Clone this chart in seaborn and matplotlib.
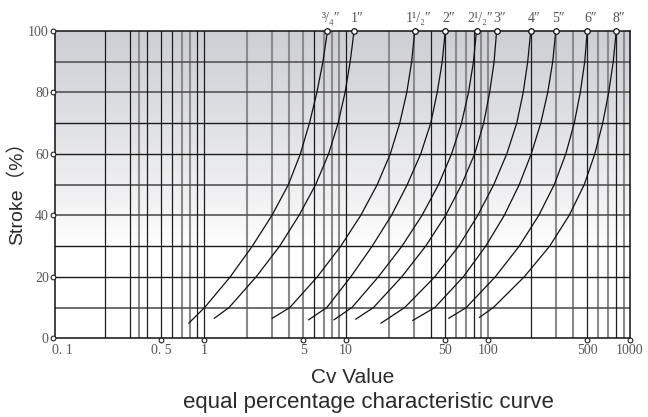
import numpy as np
import pandas as pd
import matplotlib
matplotlib.use("Agg")
import matplotlib.pyplot as plt
import seaborn as sns
from matplotlib.transforms import blended_transform_factory
from matplotlib.ticker import NullLocator

# ---------------- data ----------------
sizes = ["³/₄″", "1″", "1¹/₂″", "2″", "2¹/₂″", "3″", "4″", "5″", "6″", "8″"]
stroke_levels = [10, 20, 30, 40, 50, 60, 70, 80, 90, 100]
start_strokes = [4.9, 6.5, 6.5, 6.0, 6.0, 6.2, 4.9, 5.8, 6.5, 6.8]

cv_0_75in = [0.78, 1.01, 1.53, 2.19, 3.01, 3.93, 4.77, 5.53, 6.24, 6.88, 7.4]
cv_1in = [1.18, 1.50, 2.33, 3.41, 4.67, 6.11, 7.54, 8.8, 9.85, 10.7, 11.4]
cv_1_5in = [3.02, 4.02, 6.28, 9.19, 12.7, 16.6, 20.5, 23.9, 26.8, 29.0, 30.5]
cv_2in = [5.45, 7.32, 10.8, 15.3, 20.9, 27.0, 33.6, 39.5, 43.9, 47.6, 50]
cv_2_5in = [8.22, 11.0, 16.9, 24.8, 34.3, 44.8, 55.4, 65.1, 72.9, 79.0, 83]
cv_3in = [11.7, 15.6, 24.7, 36.4, 50.3, 65.2, 80.5, 93.2, 102.7, 110.4, 115]
cv_4in = [17.6, 25.9, 42.2, 62.2, 84.7, 109.8, 135.6, 159.4, 177, 190.4, 200]
cv_5in = [29.5, 42.2, 67, 96.4, 130.2, 166, 201.6, 235.2, 263.4, 285.6, 300]
cv_6in = [52.9, 70.3, 112.5, 166, 227.8, 292.8, 353, 405, 446.5, 480, 500]
cv_8in = [87, 109, 180, 272, 373, 476, 565, 642, 708, 762, 800]
cv_series = [cv_0_75in, cv_1in, cv_1_5in, cv_2in, cv_2_5in,
             cv_3in, cv_4in, cv_5in, cv_6in, cv_8in]

x_tick_values = [0.1, 0.5, 1, 5, 10, 50, 100, 500, 1000]
x_tick_labels = ["0. 1", "0. 5", "1", "5", "10", "50", "100", "500", "1000"]
x_marked_ticks = [0.5, 1, 5, 10, 50, 100, 500, 1000]
y_tick_values = [0, 20, 40, 60, 80, 100]
y_tick_labels = ["0", "20", "40", "60", "80", "100"]

grid_x_dark = [0.2, 0.3, 0.4, 0.5, 0.6, 0.9, 1, 6, 10, 40, 50, 80, 200, 500, 800]
grid_x_light = [0.35, 0.7, 0.8, 2, 3, 4, 5, 7, 8, 9, 20, 30, 60, 70, 90, 100,
                300, 400, 600, 700, 900]
grid_y_dark = [20, 30, 60, 70]
grid_y_light = [10, 40, 50, 80, 90]

# long-form table
rows = []
for name, s0, cvs in zip(sizes, start_strokes, cv_series):
    for st, cv in zip([s0] + stroke_levels, cvs):
        rows.append({"size": name, "cv": cv, "stroke": st})
df = pd.DataFrame(rows)

# ---------------- figure ----------------
sns.set_style("white")
plt.rcParams["font.family"] = ["Liberation Sans", "Noto Sans CJK SC", "DejaVu Sans"]

W, H = 648, 417
fig = plt.figure(figsize=(W / 100, H / 100), dpi=100)
pos = [55 / W, 1 - 338.3 / H, 575 / W, 307.3 / H]

# gradient background
bg = fig.add_axes(pos, zorder=0)
t = np.linspace(0, 1, 300)
k = np.clip((t - 0.3) / 0.7, 0, 1) ** 0.85
top = np.array([0.805, 0.81, 0.827])
cols = (1 - k)[:, None] * np.ones(3) + k[:, None] * top
img = np.repeat(cols[:, None, :], 2, axis=1)
bg.imshow(img, origin="lower", extent=(0, 1, 0, 1), aspect="auto")
bg.set_axis_off()

ax = fig.add_axes(pos, zorder=1)
ax.patch.set_visible(False)
ax.set_xscale("log")

for v in grid_x_light:
    ax.axvline(v, color="#8a8a8a", lw=1.5, zorder=1)
for v in grid_x_dark:
    ax.axvline(v, color="#1c1c1c", lw=0.9, zorder=1.2)
for v in grid_y_light:
    ax.axhline(v, color="#555555", lw=1.2, zorder=1.1)
for v in grid_y_dark:
    ax.axhline(v, color="#1c1c1c", lw=1.0, zorder=1.2)

sns.lineplot(data=df, x="cv", y="stroke", units="size", estimator=None,
             sort=False, color="#111111", lw=0.9, legend=False, ax=ax, zorder=3)

tops = [c[-1] for c in cv_series]
ax.plot(tops, [100] * len(tops), "o", ms=4, mfc="white", mec="#111111",
        mew=0.9, clip_on=False, zorder=6)

label_dx = {"³/₄″": -5.5, "1″": -3.3, "1¹/₂″": -9.3, "2″": -3.3, "2¹/₂″": -8.7,
            "3″": -3.3, "4″": -3.3, "5″": -3.3, "6″": -3.3, "8″": -3.3}
for name, cv in zip(sizes, tops):
    ax.annotate(name, xy=(cv, 100), xytext=(label_dx[name] * 0.72, 4.5),
                textcoords="offset points", ha="left", va="bottom",
                fontsize=10, color="#555555",
                family=["Liberation Serif", "DejaVu Serif"], annotation_clip=False)

ax.set_xlim(0.0893, 1000)
ax.set_ylim(0, 100)
ax.set_xticks(x_tick_values)
ax.set_xticklabels(x_tick_labels)
ax.xaxis.set_minor_locator(NullLocator())
ax.set_yticks(y_tick_values)
ax.set_yticklabels(y_tick_labels)
ax.tick_params(axis="both", length=0, labelsize=10, labelcolor="#555555")
ax.tick_params(axis="x", pad=4)
ax.tick_params(axis="y", pad=4.5)
for lab in ax.get_xticklabels() + ax.get_yticklabels():
    lab.set_family(["Liberation Serif", "DejaVu Serif"])

ty = blended_transform_factory(ax.transAxes, ax.transData)
ax.plot([-0.004] * len(y_tick_values), y_tick_values, "o", transform=ty,
        ms=3.4, mfc="white", mec="#222222", mew=0.8, clip_on=False, zorder=6)
tx = blended_transform_factory(ax.transData, ax.transAxes)
ax.plot(x_marked_ticks, [-0.007] * len(x_marked_ticks), "o", transform=tx,
        ms=3.4, mfc="white", mec="#222222", mew=0.8, clip_on=False, zorder=6)

for sp in ax.spines.values():
    sp.set_visible(True)
    sp.set_color("#111111")
    sp.set_linewidth(1.1)

ax.set_xlabel("Cv Value", fontsize=15, color="#2a2a2a")
ax.xaxis.set_label_coords((353 - 55) / 575, (338.3 - 383) / 307.3)
ax.xaxis.label.set_va("baseline")
ax.set_ylabel("Stroke（%）", fontsize=14, color="#2a2a2a")
ax.yaxis.set_label_coords((17 - 55) / 575, (338.3 - 188.5) / 307.3)
ax.yaxis.label.set_va("center")

fig.text(368 / W, (H - 408.3) / H, "equal percentage characteristic curve",
         ha="center", va="baseline", fontsize=16, color="#2a2a2a")

fig.savefig("out.png", dpi=100)
